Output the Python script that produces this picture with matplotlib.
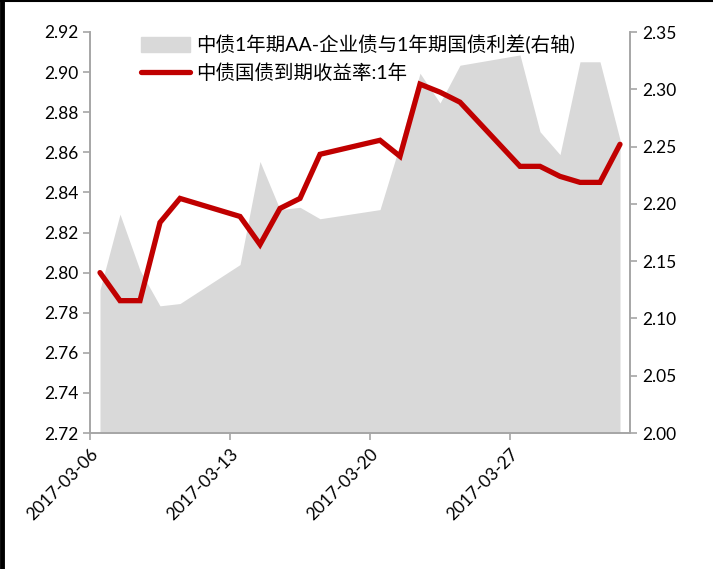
import numpy as np
import pandas as pd
import matplotlib.pyplot as plt
import matplotlib.dates as mdates
from matplotlib.lines import Line2D

plt.rcParams['font.family'] = ['Lato', 'Noto Sans CJK SC', 'DejaVu Sans']

# trading days (2017-04-01 was a working day)
dates = ["2017-03-06", "2017-03-07", "2017-03-08", "2017-03-09", "2017-03-10",
         "2017-03-13", "2017-03-14", "2017-03-15", "2017-03-16", "2017-03-17",
         "2017-03-20", "2017-03-21", "2017-03-22", "2017-03-23", "2017-03-24",
         "2017-03-27", "2017-03-28", "2017-03-29", "2017-03-30", "2017-03-31",
         "2017-04-01"]

# 中债国债到期收益率:1年 (left axis)
yield_1y = [2.800, 2.786, 2.786, 2.825, 2.837,
            2.828, 2.814, 2.832, 2.837, 2.859,
            2.866, 2.858, 2.894, 2.890, 2.885,
            2.853, 2.853, 2.848, 2.845, 2.845,
            2.864]

# AA-企业债与国债利差 (right axis)
spread = [2.125, 2.191, 2.142, 2.111, 2.113,
          2.147, 2.237, 2.195, 2.197, 2.187,
          2.195, 2.252, 2.314, 2.288, 2.321,
          2.330, 2.263, 2.243, 2.324, 2.324,
          2.256]

tick_dates = ["2017-03-06", "2017-03-13", "2017-03-20", "2017-03-27"]

x = pd.to_datetime(dates) + pd.Timedelta(hours=12)

fig = plt.figure(figsize=(7.13, 5.69), dpi=100)
ax = fig.add_axes([90/713, 1-433/569, 540/713, 401/569])
ax2 = ax.twinx()

axis_col = "#A6A6A6"
red = "#C00000"
grey = "#D9D9D9"

ax2.fill_between(x, 2.0, spread, color=grey, lw=0)
ax2.set_ylim(2.0, 2.35)
ax2.set_yticks(np.arange(2.0, 2.351, 0.05))
ax2.set_yticklabels([f"{v:.2f}" for v in np.arange(2.0, 2.351, 0.05)])

ax.plot(x, yield_1y, color=red, lw=3.8, solid_capstyle="round", solid_joinstyle="miter")
ax.set_ylim(2.72, 2.92)
ax.set_yticks(np.arange(2.72, 2.9201, 0.02))
ax.set_yticklabels([f"{v:.2f}" for v in np.arange(2.72, 2.9201, 0.02)])

ax.set_zorder(ax2.get_zorder() + 1)
ax.patch.set_visible(False)

ax.set_xlim(pd.Timestamp("2017-03-06"), pd.Timestamp("2017-04-02"))
ax.set_xticks(pd.to_datetime(tick_dates))
ax.xaxis.set_major_formatter(mdates.DateFormatter("%Y-%m-%d"))
for lab in ax.get_xticklabels():
    lab.set_rotation(45)
    lab.set_ha("right")
    lab.set_rotation_mode("anchor")

for a in (ax, ax2):
    a.spines["top"].set_visible(False)
    for s in ("left", "right", "bottom"):
        a.spines[s].set_color(axis_col)
        a.spines[s].set_linewidth(1.2)
    a.tick_params(axis="both", colors=axis_col, labelcolor="black", labelsize=12.5,
                  length=5, width=1.2, direction="out")
ax.tick_params(axis="x", pad=4)

handles = [plt.Rectangle((0, 0), 1, 1, color=grey),
           Line2D([0], [0], color=red, lw=3.8, solid_capstyle="round")]
labels = ["中债1年期AA-企业债与1年期国债利差(右轴)", "中债国债到期收益率:1年"]
ax.legend(handles, labels, loc="upper left", bbox_to_anchor=(141/713, 1-35/569),
          bbox_transform=fig.transFigure, frameon=False, fontsize=14,
          handlelength=2.5, handleheight=0.8, handletextpad=0.35, labelspacing=0.45,
          borderpad=0, borderaxespad=0)

# black frame on left and top edge
fig.add_artist(Line2D([0.003, 0.003], [0, 1], transform=fig.transFigure, color="black", lw=3.5))
fig.add_artist(Line2D([0, 1], [0.999, 0.999], transform=fig.transFigure, color="black", lw=1.5))

fig.savefig("out.png", dpi=100)
